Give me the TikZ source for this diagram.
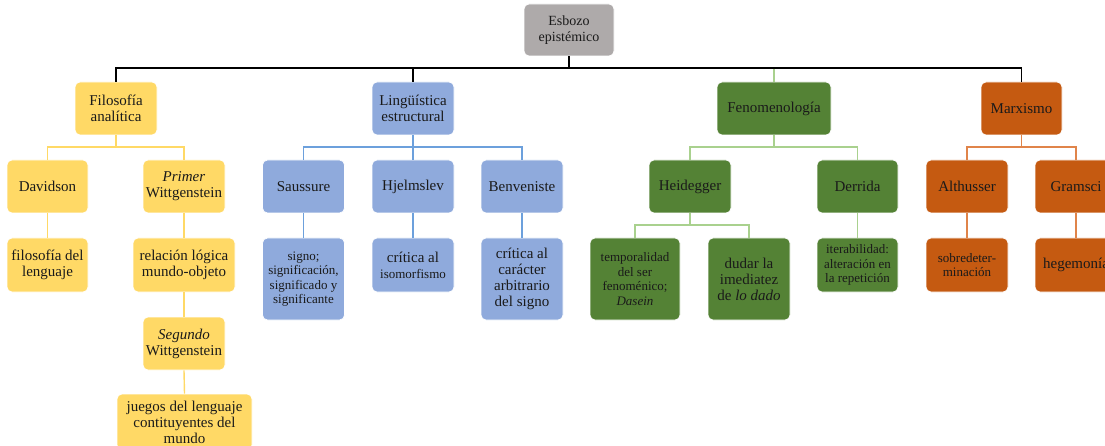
\documentclass[tikz,border=0pt]{standalone}
\usepackage{fontspec}
\setmainfont{Liberation Serif}
\definecolor{fyel}{HTML}{FFD966}
\definecolor{fblu}{HTML}{8FAADC}
\definecolor{fgrn}{HTML}{548235}
\definecolor{forg}{HTML}{C55A11}
\definecolor{fgry}{HTML}{AEAAAA}
\definecolor{lyel}{HTML}{FFD966}
\definecolor{lblu}{HTML}{6CA0DC}
\definecolor{lgrn}{HTML}{A9D18E}
\definecolor{lorg}{HTML}{E0844A}
\definecolor{txt}{HTML}{1A1A1A}
\begin{document}
\begin{tikzpicture}[x=1pt,y=-1pt,
  box/.style={rounded corners=5pt, draw=white, line width=0.7pt, align=center,
    inner sep=1pt, minimum width=82pt, minimum height=53pt, text=txt,
    font=\fontsize{15}{16}\selectfont},
  small/.style={font=\fontsize{13}{14.5}\selectfont},
  tall/.style={minimum height=82pt},
  yel/.style={box, fill=fyel},
  blu/.style={box, fill=fblu},
  grn/.style={box, fill=fgrn},
  org/.style={box, fill=forg},
  gry/.style={box, fill=fgry},
  topln/.style={draw=black, line width=1.6pt},
  yln/.style={draw=lyel, line width=1.4pt},
  bln/.style={draw=lblu, line width=1.4pt},
  gln/.style={draw=lgrn, line width=1.4pt},
  oln/.style={draw=lorg, line width=1.4pt}]
\useasboundingbox (0,0) rectangle (1105,446);
\clip (0,0) rectangle (1105,446);
\coordinate (bar) at (0,68);
\coordinate (sb) at (0,147);
\coordinate (hb) at (0,225);

% root
\node[gry, minimum width=90pt, minimum height=52pt, font=\fontsize{14}{16}\selectfont] (root) at (569,30) {Esbozo\\epistémico};

% level 1
\node[yel] (fil) at (116,108.5) {Filosofía\\analítica};
\node[blu] (lin) at (413,108.5) {Lingüística\\estructural};
\node[grn, minimum width=114pt] (fen) at (774,108.5) {Fenomenología};
\node[org, minimum width=81pt] (mar) at (1021.5,108.5) {Marxismo};

% level 2
\node[yel, minimum width=81pt] (dav) at (47.5,186.5) {Davidson};
\node[yel] (pw) at (184,186.5) {\textit{Primer}\\Wittgenstein};
\node[blu] (sau) at (303.5,186.5) {Saussure};
\node[blu] (hje) at (413,186.5) {Hjelmslev};
\node[blu] (ben) at (522,186.5) {Benveniste};
\node[grn] (hei) at (690,186.5) {Heidegger};
\node[grn, minimum width=81pt] (der) at (857.5,186.5) {Derrida};
\node[org] (alt) at (967,186.5) {Althusser};
\node[org] (gra) at (1076,186.5) {Gramsci};

% level 3
\node[yel, minimum width=81pt, minimum height=54pt] (fl) at (47.5,265) {filosofía del\\lenguaje};
\node[yel, minimum width=102pt, minimum height=54pt] (rl) at (184,265) {relación lógica\\mundo-objeto};
\node[blu, tall, small] (sig) at (303.5,279) {signo;\\significación,\\significado y\\significante};
\node[blu, minimum height=54pt] (iso) at (413,265) {crítica al\\{\fontsize{13}{14}\selectfont isomorfismo}};
\node[blu, tall] (car) at (522,279) {crítica al\\carácter\\arbitrario\\del signo};
\node[grn, tall, minimum width=90pt, small] (tem) at (635,279) {temporalidad\\del ser\\fenoménico;\\\textit{Dasein}};
\node[grn, tall] (dud) at (749,279) {dudar la\\imediatez\\de \textit{lo dado}};
\node[grn, minimum width=81pt, minimum height=54pt, small] (ite) at (857.5,265) {iterabilidad:\\alteración en\\la repetición};
\node[org, minimum height=54pt, small] (sob) at (967,265) {sobredeter-\\minación};
\node[org, minimum height=54pt] (heg) at (1076,265) {hegemonía};

% level 4-5
\node[yel] (sw) at (184,343.5) {\textit{Segundo}\\Wittgenstein};
\node[yel, minimum width=135pt, minimum height=56pt] (jue) at (184.5,422) {juegos del lenguaje\\contituyentes del\\mundo};

% connectors: top
\draw[gln] (fen.north) -- (fen.north |- bar);
\draw[topln] (root.south) -- (root.south |- bar);
\draw[topln] (fil.north) -- (fil.north |- bar) -- (mar.north |- bar) -- (mar.north);
\draw[topln] (lin.north) -- (lin.north |- bar);

% Filosofia analitica
\draw[yln] (fil.south) -- (fil.south |- sb);
\draw[yln] (dav.north) -- (dav.north |- sb) -- (pw.north |- sb) -- (pw.north);
\draw[yln] (dav.south) -- (fl.north);
\draw[yln] (pw.south) -- (rl.north);
\draw[yln] (rl.south) -- (sw.north);
\draw[yln] (sw.south) -- (jue.north);

% Linguistica
\draw[bln] (lin.south) -- (hje.north);
\draw[bln] (sau.north) -- (sau.north |- sb) -- (ben.north |- sb) -- (ben.north);
\draw[bln] (sau.south) -- (sig.north);
\draw[bln] (hje.south) -- (iso.north);
\draw[bln] (ben.south) -- (car.north);

% Fenomenologia
\draw[gln] (fen.south) -- (fen.south |- sb);
\draw[gln] (hei.north) -- (hei.north |- sb) -- (der.north |- sb) -- (der.north);
\draw[gln] (hei.south) -- (hei.south |- hb);
\draw[gln] (tem.north) -- (tem.north |- hb) -- (dud.north |- hb) -- (dud.north);
\draw[gln] (der.south) -- (ite.north);

% Marxismo
\draw[oln] (mar.south) -- (mar.south |- sb);
\draw[oln] (alt.north) -- (alt.north |- sb) -- (gra.north |- sb) -- (gra.north);
\draw[oln] (alt.south) -- (sob.north);
\draw[oln] (gra.south) -- (heg.north);
\end{tikzpicture}
\end{document}
